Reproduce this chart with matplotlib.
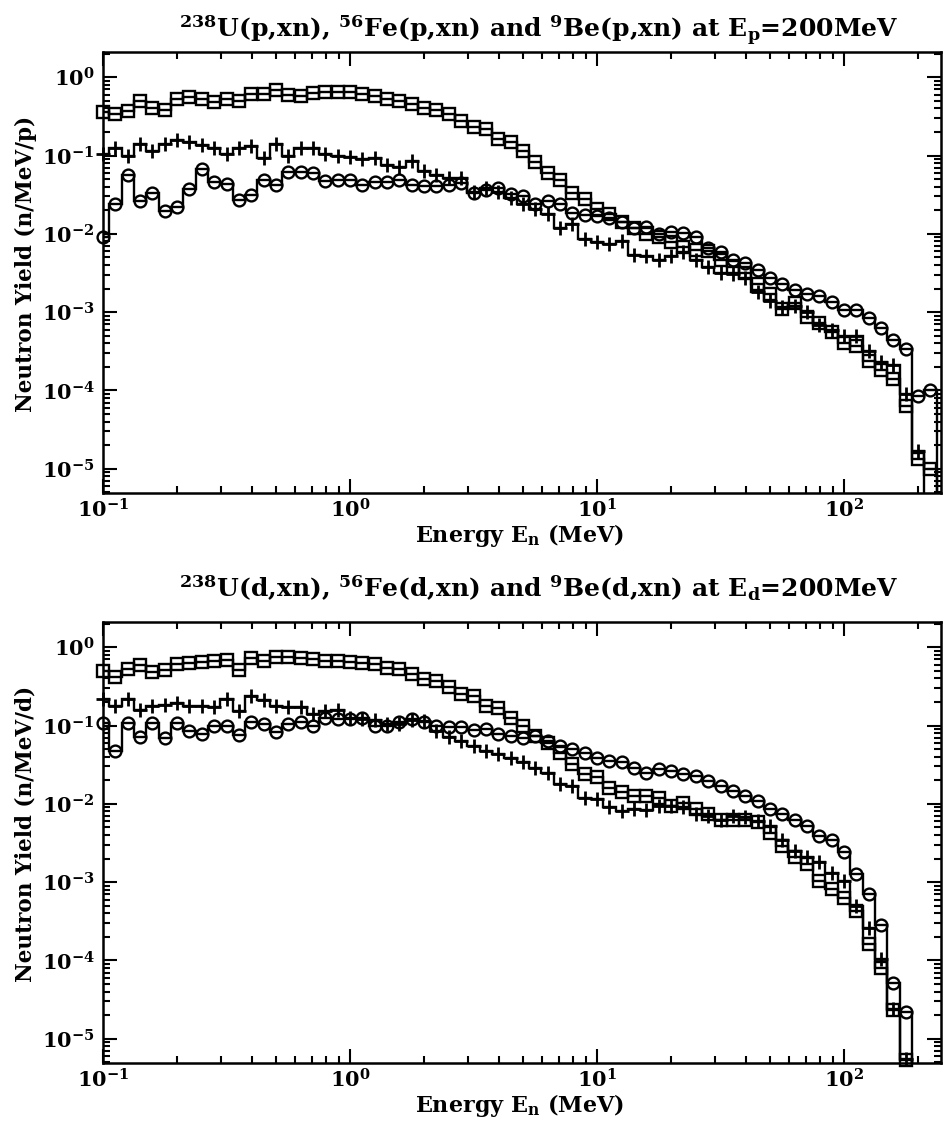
import numpy as np
import matplotlib.pyplot as plt
from matplotlib.ticker import LogLocator, NullFormatter

plt.rcParams['font.family'] = ['DejaVu Serif']
plt.rcParams['font.weight'] = 'bold'
plt.rcParams['mathtext.fontset'] = 'dejavuserif'
plt.rcParams['mathtext.default'] = 'bf'

# bins: 20 per decade, first bin centred on 0.1 MeV
log_first = -1.0
log_step = 0.05

# p + target at 200 MeV
u_p = [0.36, 0.34, 0.37, 0.49, 0.40, 0.38, 0.53, 0.56, 0.52, 0.48,
       0.52, 0.50, 0.61, 0.61, 0.68, 0.60, 0.57, 0.63, 0.65, 0.64,
       0.64, 0.61, 0.57, 0.53, 0.50, 0.45, 0.40, 0.38, 0.34, 0.28,
       0.23, 0.22, 0.165, 0.15, 0.115, 0.083, 0.060, 0.049, 0.033, 0.028,
       0.021, 0.018, 0.014, 0.0117, 0.010, 0.0091, 0.0079, 0.0068, 0.0062, 0.0060,
       0.0046, 0.0038, 0.0032, 0.0023, 0.0017, 0.0011, 0.0013, 8.7e-4, 7.3e-4, 5.6e-4,
       4.0e-4, 3.7e-4, 2.4e-4, 1.8e-4, 1.4e-4, 6.3e-5, 1.35e-5, 1.0e-5]
fe_p = [0.106, 0.123, 0.10, 0.14, 0.115, 0.14, 0.16, 0.15, 0.135, 0.126,
        0.106, 0.123, 0.131, 0.094, 0.139, 0.10, 0.123, 0.123, 0.106, 0.10,
        0.096, 0.091, 0.094, 0.075, 0.071, 0.085, 0.063, 0.056, 0.052, 0.051,
        0.034, 0.038, 0.034, 0.029, 0.024, 0.021, 0.018, 0.0117, 0.0135, 0.0087,
        0.0079, 0.0075, 0.0082, 0.0053, 0.0052, 0.0046, 0.0052, 0.0059, 0.0046, 0.0038,
        0.0032, 0.0031, 0.0027, 0.0018, 0.0014, 0.00117, 0.0012, 0.0010, 6.8e-4, 5.9e-4,
        4.9e-4, 5.0e-4, 3.2e-4, 2.3e-4, 2.1e-4, 9.1e-5, 1.7e-5]
be_p = [0.0091, 0.024, 0.056, 0.026, 0.033, 0.0196, 0.022, 0.037, 0.068, 0.046,
        0.043, 0.027, 0.031, 0.048, 0.042, 0.062, 0.062, 0.059, 0.047, 0.048,
        0.048, 0.042, 0.046, 0.046, 0.049, 0.042, 0.041, 0.041, 0.042, 0.044,
        0.033, 0.036, 0.038, 0.032, 0.030, 0.024, 0.026, 0.024, 0.0185, 0.0173,
        0.017, 0.016, 0.014, 0.0117, 0.0123, 0.010, 0.0105, 0.0103, 0.0091, 0.0065,
        0.0059, 0.0046, 0.0042, 0.0035, 0.0027, 0.0023, 0.0019, 0.0017, 0.0016, 0.00135,
        0.00105, 0.00105, 8.3e-4, 6.2e-4, 4.4e-4, 3.4e-4, 8.5e-5, 1.0e-4]

# d + target at 200 MeV
u_d = [0.50, 0.42, 0.52, 0.59, 0.48, 0.51, 0.61, 0.62, 0.65, 0.66,
       0.69, 0.51, 0.72, 0.66, 0.76, 0.75, 0.72, 0.71, 0.66, 0.66,
       0.65, 0.62, 0.61, 0.55, 0.53, 0.45, 0.39, 0.37, 0.31, 0.25,
       0.24, 0.18, 0.167, 0.126, 0.098, 0.074, 0.060, 0.045, 0.032, 0.024,
       0.022, 0.016, 0.014, 0.0127, 0.0127, 0.0117, 0.0094, 0.0102, 0.0087, 0.0074,
       0.0063, 0.0063, 0.0063, 0.0059, 0.0043, 0.0029, 0.0021, 0.0017, 0.00104, 8.1e-4,
       6.3e-4, 4.3e-4, 1.6e-4, 8.1e-5, 2.3e-5, 5.3e-6]
fe_d = [0.22, 0.18, 0.22, 0.16, 0.18, 0.185, 0.195, 0.18, 0.18, 0.17,
        0.22, 0.154, 0.235, 0.21, 0.18, 0.175, 0.175, 0.14, 0.154, 0.16,
        0.126, 0.12, 0.118, 0.104, 0.106, 0.118, 0.115, 0.085, 0.072, 0.064,
        0.055, 0.047, 0.043, 0.038, 0.034, 0.029, 0.025, 0.018, 0.017, 0.012,
        0.0114, 0.0090, 0.0081, 0.0085, 0.0083, 0.0094, 0.0095, 0.0090, 0.0074, 0.0070,
        0.0063, 0.0070, 0.0068, 0.0060, 0.0052, 0.0035, 0.0025, 0.0021, 0.0018, 0.0013,
        0.00104, 5.0e-4, 2.6e-4, 1.04e-4, 2.4e-5, 5.5e-6]
be_d = [0.107, 0.047, 0.108, 0.072, 0.107, 0.070, 0.108, 0.085, 0.077, 0.099,
        0.10, 0.076, 0.11, 0.104, 0.083, 0.104, 0.11, 0.099, 0.123, 0.12,
        0.12, 0.126, 0.10, 0.10, 0.11, 0.12, 0.11, 0.099, 0.095, 0.095,
        0.088, 0.090, 0.078, 0.074, 0.070, 0.074, 0.064, 0.055, 0.050, 0.045,
        0.039, 0.035, 0.034, 0.029, 0.025, 0.028, 0.026, 0.024, 0.023, 0.0195,
        0.017, 0.0146, 0.0126, 0.011, 0.0085, 0.0074, 0.0063, 0.0052, 0.0039, 0.0035,
        0.0024, 0.00126, 7.0e-4, 2.8e-4, 5.2e-5, 2.2e-5]

titles = [r'$^{238}$U(p,xn), $^{56}$Fe(p,xn) and $^{9}$Be(p,xn) at E$_{p}$=200MeV',
          r'$^{238}$U(d,xn), $^{56}$Fe(d,xn) and $^{9}$Be(d,xn) at E$_{d}$=200MeV']
ylabels = ['Neutron Yield (n/MeV/p)', 'Neutron Yield (n/MeV/d)']


def histo(ax, vals, marker, ms, mew):
    vals = np.array(vals)
    k = np.arange(len(vals))
    centres = 10 ** (log_first + log_step * k)
    edges = 10 ** (log_first - log_step / 2 + log_step * np.arange(len(vals) + 1))
    ax.stairs(vals, edges, baseline=1e-9, color='black', lw=1.7)
    ax.plot(centres, vals, ls='none', marker=marker, ms=ms, mfc='none',
            mec='black', mew=mew, clip_on=False)


fig = plt.figure(figsize=(9.44, 11.22), dpi=100)
ax1 = fig.add_axes([103/944, 1-493/1122, 838/944, 441/1122])
ax2 = fig.add_axes([103/944, 1-1063/1122, 838/944, 441/1122])

sets = [(u_p, fe_p, be_p), (u_d, fe_d, be_d)]
title_pads = [10, 18]
for i, ax in enumerate([ax1, ax2]):
    u, fe, be = sets[i]
    histo(ax, u, 's', 8.5, 1.7)
    histo(ax, fe, '+', 10, 2.0)
    histo(ax, be, 'o', 8.5, 1.7)

    ax.set_xscale('log')
    ax.set_yscale('log')
    ax.set_xlim(0.1, 247)
    ax.set_ylim(4.9e-6, 2.1)
    ax.yaxis.set_major_locator(LogLocator(base=10, numticks=10))
    ax.yaxis.set_minor_locator(LogLocator(base=10, subs=np.arange(2, 10), numticks=20))
    ax.yaxis.set_minor_formatter(NullFormatter())
    ax.xaxis.set_minor_formatter(NullFormatter())
    ax.tick_params(which='both', direction='in', top=True, right=True, width=1.5)
    ax.tick_params(which='major', length=10, labelsize=15, pad=6)
    ax.tick_params(axis='x', which='major', pad=4)
    ax.tick_params(which='minor', length=5)
    for s in ax.spines.values():
        s.set_linewidth(1.8)

    t = ax.set_title(titles[i], fontsize=18, fontweight='bold', pad=title_pads[i])
    t.set_x(0.52)
    ax.set_xlabel(r'Energy E$_{n}$ (MeV)', fontsize=16, fontweight='bold')
    ax.xaxis.set_label_coords(0.497, -0.066)
    ax.set_ylabel(ylabels[i], fontsize=15.5, fontweight='bold', va='center')
    ax.yaxis.set_label_coords(-0.092, 0.52)

fig.savefig('out.png', dpi=100)
